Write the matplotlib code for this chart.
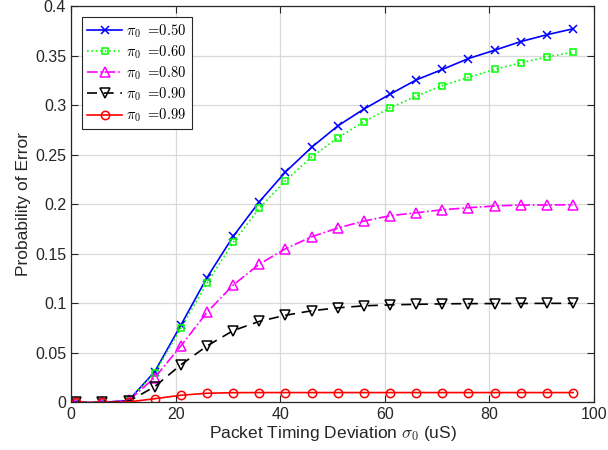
import matplotlib
matplotlib.use("Agg")
import matplotlib.pyplot as plt
import numpy as np

plt.rcParams['font.family'] = ['Liberation Sans', 'DejaVu Sans']
plt.rcParams['mathtext.fontset'] = 'cm'

x = [1, 6, 11, 16, 21, 26, 31, 36, 41, 46, 51, 56, 61, 66, 71, 76, 81, 86, 91, 96]

pe_050 = [0.0, 0.0, 0.002, 0.031, 0.078, 0.126, 0.1675, 0.2025, 0.2325, 0.2574, 0.279, 0.296,
          0.311, 0.3254, 0.336, 0.347, 0.3554, 0.3641, 0.371, 0.377]
pe_060 = [0.0, 0.0, 0.002, 0.0295, 0.075, 0.1204, 0.1614, 0.196, 0.2237, 0.2477, 0.267, 0.2833,
          0.2972, 0.309, 0.3197, 0.328, 0.336, 0.3426, 0.3487, 0.3533]
pe_080 = [0.0, 0.0, 0.002, 0.025, 0.057, 0.091, 0.1184, 0.1396, 0.155, 0.1672, 0.176, 0.183,
          0.1884, 0.1914, 0.1944, 0.1965, 0.1982, 0.1992, 0.1992, 0.1995]
pe_090 = [0.0, 0.0, 0.001, 0.016, 0.038, 0.057, 0.0725, 0.0818, 0.088, 0.0925, 0.0955, 0.0975,
          0.0985, 0.099, 0.0995, 0.0997, 0.0998, 0.0999, 0.1, 0.1]
pe_099 = [0.0, 0.0, 0.0005, 0.0038, 0.0073, 0.0093, 0.0099, 0.01, 0.01, 0.01, 0.01, 0.01,
          0.01, 0.01, 0.01, 0.01, 0.01, 0.01, 0.01, 0.01]

labels = [r'$\pi_0\ =\!0.50$', r'$\pi_0\ =\!0.60$', r'$\pi_0\ =\!0.80$',
          r'$\pi_0\ =\!0.90$', r'$\pi_0\ =\!0.99$']

xticks = [0, 20, 40, 60, 80, 100]
yticks = [0, 0.05, 0.1, 0.15, 0.2, 0.25, 0.3, 0.35, 0.4]
ytick_labels = ['0', '0.05', '0.1', '0.15', '0.2', '0.25', '0.3', '0.35', '0.4']

fig = plt.figure(figsize=(6.08, 4.5), dpi=100)
ax = fig.add_axes([0.1168, 0.1056, 0.8602, 0.8811])

series = [
    (pe_050, dict(color=(0, 0, 1), linestyle='-', marker='x', markersize=6)),
    (pe_060, dict(color=(0, 1, 0), linestyle=':', marker='s', markersize=5, markerfacecolor='none')),
    (pe_080, dict(color=(1, 0, 1), linestyle='-.', marker='^', markersize=7, markerfacecolor='none')),
    (pe_090, dict(color=(0, 0, 0), linestyle=(0, (6, 4)), marker='v', markersize=7, markerfacecolor='none')),
    (pe_099, dict(color=(1, 0, 0), linestyle='-', marker='o', markersize=6, markerfacecolor='none')),
]
for (vals, st), lab in zip(series, labels):
    ax.plot(x, vals, linewidth=1.2, markeredgewidth=1.1, label=lab, **st)

ax.set_xlim(0, 100)
ax.set_ylim(0, 0.4)
ax.set_xticks(xticks)
ax.set_yticks(yticks)
ax.set_yticklabels(ytick_labels)
ax.grid(True, color=(0.85, 0.85, 0.85), linewidth=0.9)
ax.set_axisbelow(True)
ax.tick_params(direction='in', top=True, right=True, labelsize=11.5, colors=(0.15, 0.15, 0.15),
               length=5, width=0.8)
for sp in ax.spines.values():
    sp.set_color((0.15, 0.15, 0.15))
    sp.set_linewidth(0.9)

ax.set_xlabel(r'Packet Timing Deviation $\sigma_0$ (uS)', fontsize=12.5, color=(0.15, 0.15, 0.15), labelpad=1)
ax.set_ylabel('Probability of Error', fontsize=12.5, color=(0.15, 0.15, 0.15), labelpad=3)

leg = ax.legend(loc='upper left', bbox_to_anchor=(0.021, 0.972), borderaxespad=0,
                fancybox=False, edgecolor=(0.15, 0.15, 0.15), framealpha=1,
                fontsize=10.5, handlelength=2.4, handletextpad=0.3, labelspacing=0.25,
                borderpad=0.35)
leg.get_frame().set_linewidth(0.8)

fig.savefig('out.png', dpi=100)
